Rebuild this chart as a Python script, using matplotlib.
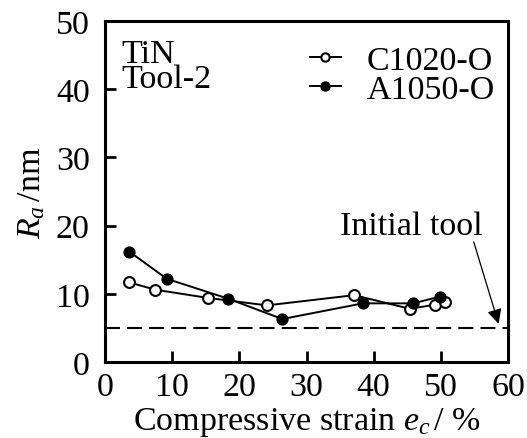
import matplotlib
matplotlib.use("Agg")
import matplotlib.pyplot as plt
from matplotlib.lines import Line2D

plt.rcParams['font.family'] = ['Liberation Serif', 'DejaVu Serif']
plt.rcParams['mathtext.fontset'] = 'custom'
plt.rcParams['mathtext.rm'] = 'Liberation Serif'
plt.rcParams['mathtext.it'] = 'Liberation Serif:italic'

# Surface roughness of TiN-coated Tool-2 versus compressive strain
c1020_strain = [3.5, 7.5, 15.3, 24.1, 37.1, 45.4, 49.1, 50.6]
c1020_ra = [11.7, 10.6, 9.4, 8.3, 9.8, 7.8, 8.4, 8.8]
a1050_strain = [3.6, 9.2, 18.3, 26.4, 38.4, 45.9, 49.9]
a1050_ra = [16.2, 12.2, 9.3, 6.3, 8.6, 8.6, 9.6]
initial_tool_ra = 5.0

xticks = [0, 10, 20, 30, 40, 50, 60]
yticks = [0, 10, 20, 30, 40, 50]

fs = 24.5

fig = plt.figure(figsize=(5.27, 4.39), dpi=100)
ax = fig.add_axes([105 / 527, 1 - 363 / 439, 403 / 527, 341 / 439])

ax.axhline(initial_tool_ra, color='black', lw=1.5, dashes=(7.2, 3.4))

ax.plot(c1020_strain, c1020_ra, '-o', color='black', lw=1.4,
        ms=7.8, mfc='white', mec='black', mew=1.5, zorder=3)
ax.plot(a1050_strain, a1050_ra, '-o', color='black', lw=1.4,
        ms=7.8, mfc='black', mec='black', zorder=4)

ax.set_xlim(0, 60)
ax.set_ylim(0, 50)
ax.set_xticks(xticks)
ax.set_yticks(yticks)
ax.tick_params(direction='in', length=8, width=2, labelsize=fs,
               top=False, right=False)
ax.tick_params(axis='x', pad=7)
ax.tick_params(axis='y', pad=11)
for sp in ax.spines.values():
    sp.set_linewidth(2.2)

ax.set_xlabel(r'Compressive strain $e_c$$\,$/ %', fontsize=fs, labelpad=2)
ax.set_ylabel(r'$R_a$$\,$/nm', fontsize=fs, labelpad=6)

ax.text(0.04, 0.95, 'TiN\nTool-2', transform=ax.transAxes, fontsize=fs,
        va='top', ha='left', linespacing=0.8)

handles = [
    Line2D([], [], color='black', lw=1.4, marker='o', ms=6, mfc='white', mec='black', mew=1.5),
    Line2D([], [], color='black', lw=1.4, marker='o', ms=6.5, mfc='black', mec='black'),
]
ax.legend(handles, ['C1020-O', 'A1050-O'], loc='upper right', frameon=False,
          fontsize=fs, handlelength=0.9, handletextpad=0.75, labelspacing=-0.05,
          borderaxespad=0.2, borderpad=0.2, bbox_to_anchor=(1.0, 0.97))

ax.text(45.6, 18.8, 'Initial tool', fontsize=fs, ha='center', va='baseline')
ax.annotate('', xy=(58.6, 5.6), xytext=(54.9, 17.6),
            arrowprops=dict(arrowstyle='-|>', color='black', lw=0.9,
                            mutation_scale=22, shrinkA=0, shrinkB=0))

fig.savefig('out.png', dpi=100)
